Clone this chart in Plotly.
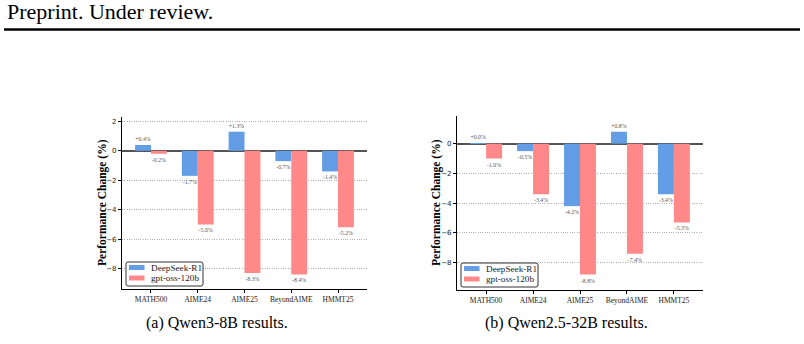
import plotly.graph_objects as go

W, H = 804, 344

# ---------------- data ----------------
categories = ["MATH500", "AIME24", "AIME25", "BeyondAIME", "HMMT25"]
series_names = ["DeepSeek-R1", "gpt-oss-120b"]
qwen3_8b_deepseek = [0.4, -1.7, 1.3, -0.7, -1.4]
qwen3_8b_gptoss = [-0.2, -5.0, -8.3, -8.4, -5.2]
qwen25_32b_deepseek = [0.04, -0.5, -4.2, 0.8, -3.4]
qwen25_32b_gptoss = [-1.0, -3.4, -8.8, -7.4, -5.3]
y_ticks_a = [-8, -6, -4, -2, 0, 2]
y_ticks_b = [-8, -6, -4, -2, 0]
captions = ["(a) Qwen3-8B results.", "(b) Qwen2.5-32B results."]
header = "Preprint. Under review."
y_title = "Performance Change (%)"

# ---------------- style ----------------
colors = ["rgb(98,157,229)", "rgb(255,137,137)"]
SERIF = "Liberation Serif"


def px(x):
    return x / W


def py(y):
    return 1 - y / H


panels = [
    dict(xa="x", ya="y", data=[qwen3_8b_deepseek, qwen3_8b_gptoss],
         box=(122, 367, 117, 289), yrange=[-9.39, 2.3], ticks=y_ticks_a,
         caption_x=217, title_x=102),
    dict(xa="x2", ya="y2", data=[qwen25_32b_deepseek, qwen25_32b_gptoss],
         box=(457, 703, 116, 290), yrange=[-9.84, 1.86], ticks=y_ticks_b,
         caption_x=566, title_x=436),
]

fig = go.Figure()
shapes = []
annotations = []

for i, p in enumerate(panels):
    for name, vals, c in zip(series_names, p["data"], colors):
        fig.add_trace(go.Bar(
            x=categories, y=vals, name=name, marker_color=c,
            marker_line_width=0,
            xaxis=p["xa"], yaxis=p["ya"],
            text=[f"{v:+.1f}%" for v in vals],
            textposition="outside",
            textfont=dict(size=5.8, color="#555555", family=SERIF),
            cliponaxis=False, constraintext="none", textangle=0,
            showlegend=False, hoverinfo="skip",
        ))
    x0, x1, y0, y1 = p["box"]
    suffix = "" if i == 0 else "2"
    fig.layout["xaxis" + suffix] = dict(
        domain=[px(x0), px(x1)], anchor="y" + suffix,
        range=[-0.62, len(categories) - 1 + 0.62],
        showline=True, linecolor="black", linewidth=1.2,
        ticks="outside", ticklen=3, tickwidth=0.8, tickcolor="black",
        tickfont=dict(family=SERIF, size=7.5, color="#222222"),
        showgrid=False, zeroline=False, fixedrange=True,
    )
    fig.layout["yaxis" + suffix] = dict(
        domain=[py(y1), py(y0)], anchor="x" + suffix,
        range=p["yrange"], tickvals=p["ticks"],
        showline=True, linecolor="black", linewidth=1.2,
        ticks="outside", ticklen=3, tickwidth=0.8, tickcolor="black",
        tickfont=dict(family="DejaVu Sans", size=7, color="#222222"),
        showgrid=True, gridcolor="#b0b0b0", gridwidth=0.7,
        griddash="1px,1.3px",
        zeroline=True, zerolinecolor="#555555", zerolinewidth=1.6,
        fixedrange=True,
    )

    # y-axis title
    annotations.append(dict(text=f"<b>{y_title}</b>", xref="paper", yref="paper",
                            x=px(p["title_x"]), y=py((y0 + y1) / 2),
                            xanchor="center", yanchor="middle", textangle=-90,
                            showarrow=False,
                            font=dict(family=SERIF, size=11.5, color="black")))

    # legend (manual, matplotlib-like)
    lx0, lx1 = x0 + 4, x0 + 81
    ly0, ly1 = y1 - 27, y1 - 3
    r = 2
    path = (f"M{px(lx0 + r)},{py(ly0)} L{px(lx1 - r)},{py(ly0)} "
            f"Q{px(lx1)},{py(ly0)} {px(lx1)},{py(ly0 + r)} "
            f"L{px(lx1)},{py(ly1 - r)} Q{px(lx1)},{py(ly1)} {px(lx1 - r)},{py(ly1)} "
            f"L{px(lx0 + r)},{py(ly1)} Q{px(lx0)},{py(ly1)} {px(lx0)},{py(ly1 - r)} "
            f"L{px(lx0)},{py(ly0 + r)} Q{px(lx0)},{py(ly0)} {px(lx0 + r)},{py(ly0)} Z")
    shapes.append(dict(type="path", path=path, xref="paper", yref="paper",
                       fillcolor="rgba(255,255,255,0.92)",
                       line=dict(color="#333333", width=1), layer="above"))
    for k, (name, c) in enumerate(zip(series_names, colors)):
        cy = ly0 + 5.5 + k * 10.5
        shapes.append(dict(type="rect", xref="paper", yref="paper",
                           x0=px(lx0 + 3), x1=px(lx0 + 18.5),
                           y0=py(cy - 2.5), y1=py(cy + 2.5),
                           fillcolor=c, line=dict(width=0), layer="above"))
        annotations.append(dict(text=name, xref="paper", yref="paper",
                                x=px(lx0 + 23), y=py(cy), xanchor="left",
                                yanchor="middle", showarrow=False,
                                font=dict(family=SERIF, size=9.2, color="#222222")))

    annotations.append(dict(text=captions[i], xref="paper", yref="paper",
                            x=px(p["caption_x"]), y=py(323), xanchor="center",
                            yanchor="middle", showarrow=False,
                            font=dict(family=SERIF, size=16, color="black")))

# header + rule
annotations.append(dict(text=header, xref="paper", yref="paper",
                        x=px(5), y=py(12), xanchor="left", yanchor="middle",
                        showarrow=False,
                        font=dict(family=SERIF, size=22, color="black")))
shapes.append(dict(type="line", xref="paper", yref="paper",
                   x0=px(4), x1=px(800), y0=py(29.5), y1=py(29.5),
                   line=dict(color="black", width=2.6)))

fig.update_layout(
    width=W, height=H, margin=dict(l=0, r=0, t=0, b=0),
    paper_bgcolor="white", plot_bgcolor="white",
    barmode="group", bargap=0.32, bargroupgap=0,
    shapes=shapes, annotations=annotations, showlegend=False,
)

fig.write_html("out.html", config={"displayModeBar": False})
